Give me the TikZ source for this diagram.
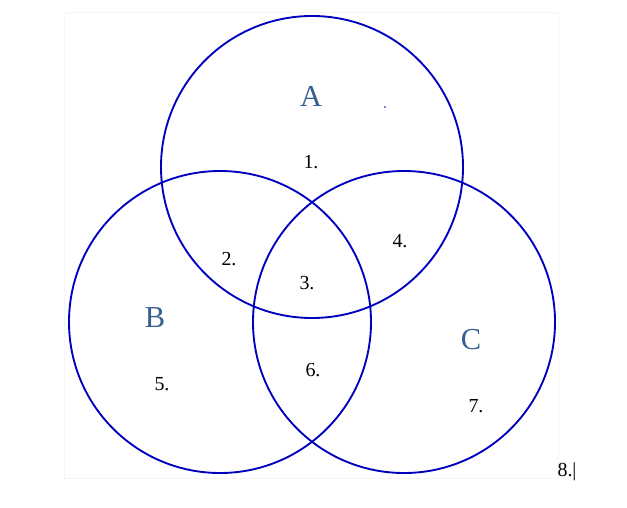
\documentclass[tikz,border=0pt]{standalone}
\usepackage{fontspec}
\setmainfont{Liberation Serif}
\usetikzlibrary{positioning}
\definecolor{setblue}{RGB}{0,0,190}
\definecolor{headblue}{RGB}{54,95,145}
\tikzset{
      setcircle/.style={
        circle,
        draw=setblue,
        line width=1.6pt,
        minimum size=302*0.03cm,
        inner sep=0pt
      },
      setname/.style={
        text=headblue,
        font=\fontsize{26}{28}\selectfont,
        inner sep=0pt
      },
      regionnum/.style={
        font=\fontsize{17}{19}\selectfont,
        inner sep=0pt
      }
    }

\begin{document}
\begin{tikzpicture}[x=0.03cm,y=-0.03cm]
    \useasboundingbox (0,0) rectangle (627,507);
    \draw[gray!8, line width=0.6pt] (64,12) rectangle (558,478);
    \node[setcircle] (setA) at (312,167) {};
    \node[setcircle] (setB) at (220,322) {};
    \node[setcircle] (setC) at (404,322) {};
    \node[setname] (nameA) at (311,96) {A};
    \node[setname] (nameB) at (155,318) {B};
    \node[setname] (nameC) at (471,340) {C};
    \fill[setblue] (385,107) circle (0.8pt);
    \node[regionnum] (r1) at (311,162) {1.};
    \node[regionnum] (r2) at (229,259) {2.};
    \node[regionnum] (r3) at (307,283) {3.};
    \node[regionnum] (r4) at (400,241) {4.};
    \node[regionnum] (r5) at (162,384) {5.};
    \node[regionnum] (r6) at (313,370) {6.};
    \node[regionnum] (r7) at (476,406) {7.};
    \node[regionnum] (r8) at (567,472) {8.|};
    \end{tikzpicture}
\end{document}
